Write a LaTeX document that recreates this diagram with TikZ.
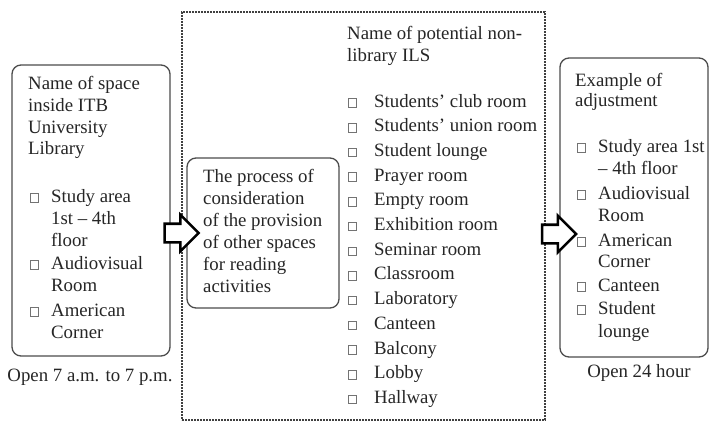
\documentclass[tikz,border=0pt]{standalone}
\usepackage{fontspec}
\setmainfont{Liberation Serif}
\usetikzlibrary{shapes.arrows}
\begin{document}
\begin{tikzpicture}[x=1pt,y=-1pt,
  panel/.style={draw=black!70, line width=1.3pt, rounded corners=9pt, inner sep=0pt, outer sep=0pt},
  dotbox/.style={draw=black!75, line width=1.6pt, dash pattern=on 1.6pt off 1.4pt, inner sep=0pt},
  txt/.style={anchor=base west, inner sep=0pt, text=black!85, font=\fontsize{18.8pt}{22pt}\selectfont},
  ctxt/.style={txt, anchor=base},
  cb/.style={draw=black!55, line width=0.8pt, minimum size=8.5pt, inner sep=0pt},
  blockarrow/.style={single arrow, draw=black, line width=2.6pt, fill=white, inner sep=8pt,
    minimum height=34pt, minimum width=34pt, single arrow head extend=9pt, single arrow tip angle=90}]
\useasboundingbox (0,0) rectangle (710,421);
\fill[white] (0,0) rectangle (710,421);

% boxes
\node[dotbox, minimum width=363pt, minimum height=408pt] (dots) at (363.5,216) {};
\node[panel, minimum width=158pt, minimum height=291pt] (left) at (91,210.5) {};
\node[panel, minimum width=152pt, minimum height=150pt] (mid) at (263,233) {};
\node[panel, minimum width=148pt, minimum height=299pt] (right) at (634,207.5) {};

% arrows
\node[blockarrow] (arrA) at (177,233) {};
\node[blockarrow] (arrB) at (554.5,234) {};

% left box
\foreach \y/\t [count=\i] in {89/Name of space,111/inside ITB,133/University,154/Library}
  \node[txt] (lh\i) at (28,\y) {\t};
\foreach \y/\t [count=\i] in {202/Study area,224/1st – 4th,246/floor,269/Audiovisual,291/Room,316/American,338/Corner}
  \node[txt] (li\i) at (51,\y) {\t};
\foreach \y [count=\i] in {198,265,312}
  \node[cb] (lc\i) at (34.5,\y) {};

% middle box
\foreach \y/\t [count=\i] in {182/The process of,204/consideration,226/of the provision,248/of other spaces,270/for reading,292/activities}
  \node[txt] (m\i) at (203,\y) {\t};

% dotted column
\foreach \y/\t [count=\i] in {39/Name of potential non-,61/library ILS}
  \node[txt] (dh\i) at (347,\y) {\t};
\foreach \t [count=\i] in {Students’ club room,Students’ union room,Student lounge,Prayer room,Empty room,Exhibition room,Seminar room,Classroom,Laboratory,Canteen,Balcony,Lobby,Hallway}{
  \node[txt] (di\i) at (374,{107+24.7*(\i-1)}) {\t};
  \node[cb] (dc\i) at (352.5,{103+24.7*(\i-1)}) {};
}

% right box
\foreach \y/\t [count=\i] in {86/Example of,106/adjustment}
  \node[txt] (rh\i) at (575,\y) {\t};
\foreach \y/\t [count=\i] in {152/Study area 1st,174/– 4th floor,199/Audiovisual,221/Room,246/American,267/Corner,291/Canteen,314/Student,337/lounge}
  \node[txt] (ri\i) at (598,\y) {\t};
\foreach \y [count=\i] in {148,195,242,287,310}
  \node[cb] (rc\i) at (581.5,\y) {};

% captions
\node[ctxt] (capL) at (90,381) {Open 7 a.m. to 7 p.m.};
\node[ctxt] (capR) at (639,377) {Open 24 hour};
\end{tikzpicture}
\end{document}
